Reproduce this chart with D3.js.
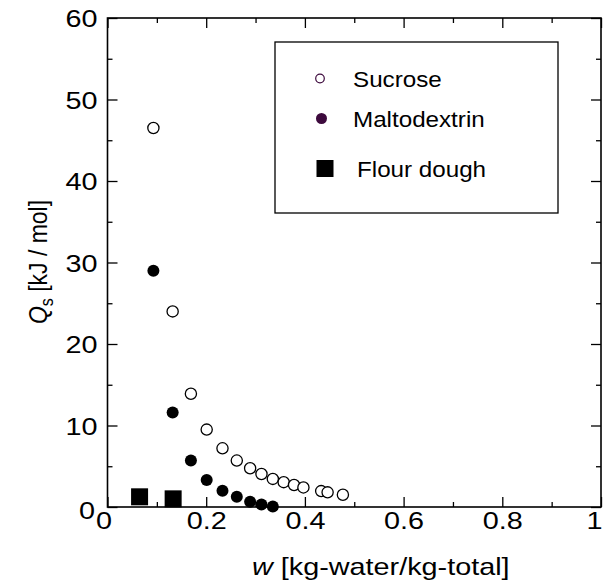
<!DOCTYPE html>
<html><head><meta charset="utf-8">
<script src="https://cdn.jsdelivr.net/npm/d3@7"></script>
<style>body{margin:0;background:#fff}svg{display:block}text{font-family:"Liberation Sans",Arial,sans-serif}</style>
</head><body><svg id="c" width="607" height="585"></svg>
<script>
const sucroseW = [0.093,0.132,0.169,0.201,0.233,0.262,0.289,0.312,0.335,0.357,0.378,0.397,0.433,0.446,0.477];
const sucroseQ = [46.5,24.0,13.9,9.5,7.2,5.7,4.75,4.05,3.45,3.05,2.7,2.4,1.95,1.8,1.5];
const maltoW = [0.093,0.132,0.169,0.201,0.233,0.262,0.289,0.312,0.335];
const maltoQ = [29.0,11.6,5.7,3.3,2.0,1.25,0.65,0.3,0.05];
const flourW = [0.065,0.133];
const flourQ = [1.25,1.0];
const xMajor = [0,0.2,0.4,0.6,0.8,1];
const xMinor = [0.1,0.3,0.5,0.7,0.9];
const yMajor = [0,10,20,30,40,50,60];
const yMinor = [5,15,25,35,45,55];
const legendLabels = ["Sucrose","Maltodextrin","Flour dough"];

(function(){
const svg = d3.select("#c");
const L=107.5,R=601,T=18,B=507;
const SX=1.2;
const x = d3.scaleLinear().domain([0,1]).range([L,R]);
const y = d3.scaleLinear().domain([0,60]).range([B,T]);
const fmt = d => d===0?"0":(d===1?"1":d3.format(".1f")(d));

function ax(g, axis){ g.call(axis); g.select(".domain").remove(); g.selectAll("line").attr("stroke","#000").attr("stroke-width",1.3); }
const gBottom = svg.append("g").attr("transform",`translate(0,${B})`);
ax(gBottom, d3.axisBottom(x).tickValues(xMajor).tickSize(-10).tickFormat(fmt));
gBottom.selectAll("text").attr("font-size",24).attr("fill","#000").attr("y",0).attr("dy",0)
  .attr("transform",d=>`translate(${d===0?-4:(d===1?-7:0)},22) scale(${SX},1)`);
const gBottomMin = svg.append("g").attr("transform",`translate(0,${B})`);
ax(gBottomMin, d3.axisBottom(x).tickValues(xMinor).tickSize(-5).tickFormat(""));
const gTop = svg.append("g").attr("transform",`translate(0,${T})`);
ax(gTop, d3.axisTop(x).tickValues(xMajor).tickSize(-10).tickFormat(""));
const gTopMin = svg.append("g").attr("transform",`translate(0,${T})`);
ax(gTopMin, d3.axisTop(x).tickValues(xMinor).tickSize(-5).tickFormat(""));
const gLeft = svg.append("g").attr("transform",`translate(${L},0)`);
ax(gLeft, d3.axisLeft(y).tickValues(yMajor).tickSize(-10).tickFormat(d3.format("d")));
gLeft.selectAll("text").attr("font-size",24).attr("fill","#000").attr("x",0).attr("dy",0)
  .attr("transform",d=>d===0?`translate(-12.5,11.5) scale(${SX},1)`:`translate(-10,8.5) scale(${SX},1)`);
const gLeftMin = svg.append("g").attr("transform",`translate(${L},0)`);
ax(gLeftMin, d3.axisLeft(y).tickValues(yMinor).tickSize(-5).tickFormat(""));
const gRight = svg.append("g").attr("transform",`translate(${R},0)`);
ax(gRight, d3.axisRight(y).tickValues(yMajor).tickSize(-10).tickFormat(""));
const gRightMin = svg.append("g").attr("transform",`translate(${R},0)`);
ax(gRightMin, d3.axisRight(y).tickValues(yMinor).tickSize(-5).tickFormat(""));

svg.append("rect").attr("x",L).attr("y",T).attr("width",R-L).attr("height",B-T)
  .attr("fill","none").attr("stroke","#000").attr("stroke-width",1.6);

svg.append("rect").attr("x",275).attr("y",42).attr("width",283).attr("height",171)
  .attr("fill","none").attr("stroke","#000").attr("stroke-width",1.3);

svg.append("g").selectAll("circle").data(d3.zip(sucroseW,sucroseQ)).join("circle")
  .attr("cx",d=>x(d[0])).attr("cy",d=>y(d[1])).attr("r",5.6)
  .attr("fill","#fff").attr("stroke","#000").attr("stroke-width",1.3);
svg.append("g").selectAll("circle").data(d3.zip(maltoW,maltoQ)).join("circle")
  .attr("cx",d=>x(d[0])).attr("cy",d=>y(d[1])).attr("r",6).attr("fill","#000");
svg.append("g").selectAll("rect").data(d3.zip(flourW,flourQ)).join("rect")
  .attr("x",d=>x(d[0])-8.5).attr("y",d=>y(d[1])-8.5).attr("width",17).attr("height",17).attr("fill","#000");

const lg = svg.append("g");
lg.append("circle").attr("cx",320).attr("cy",78.5).attr("r",4.3).attr("fill","#fff").attr("stroke","#3d0a3d").attr("stroke-width",1.2);
lg.append("circle").attr("cx",321.5).attr("cy",118.5).attr("r",5.5).attr("fill","#3d0a3d");
lg.append("rect").attr("x",316.5).attr("y",160).attr("width",17).attr("height",17).attr("fill","#000");
const lx=[353,353,357], ly=[86.5,126.5,176.5];
legendLabels.forEach((t,i)=>lg.append("text").attr("transform",`translate(${lx[i]},${ly[i]}) scale(1.1,1)`)
  .attr("font-size",22).attr("fill","#000").text(t));

const xt = svg.append("text").attr("transform",`translate(252,575) scale(${SX},1)`).attr("font-size",24).attr("fill","#000");
xt.append("tspan").attr("font-style","italic").text("w");
xt.append("tspan").text(" [kg-water/kg-total]");
const yt = svg.append("text").attr("transform","translate(47,262) rotate(-90) scale(1,1.15)").attr("text-anchor","middle").attr("font-size",23).attr("fill","#000");
yt.append("tspan").attr("font-style","italic").text("Q");
yt.append("tspan").attr("font-size",16).attr("dy",5).text("s");
yt.append("tspan").attr("dy",-5).text(" [kJ / mol]");
})();
</script></body></html>
